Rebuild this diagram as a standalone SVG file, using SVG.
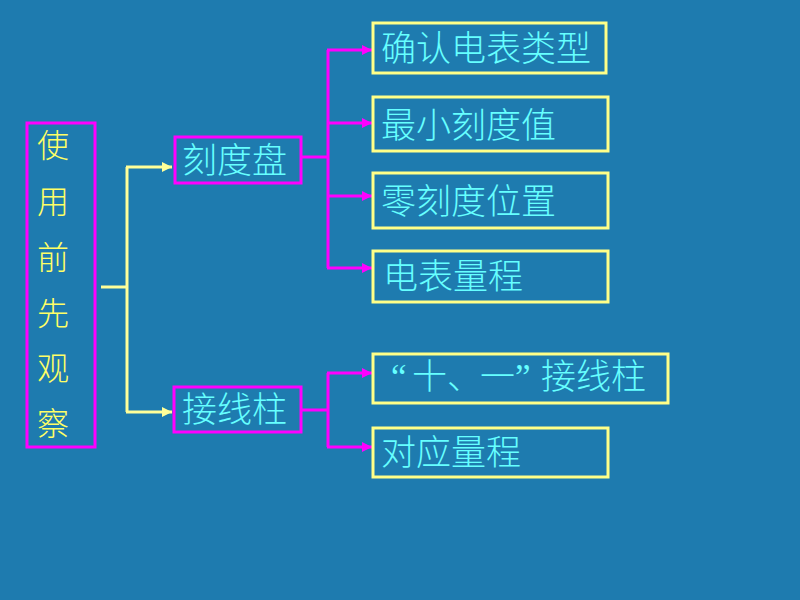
<svg xmlns="http://www.w3.org/2000/svg" width="800" height="600" viewBox="0 0 800 600">
<defs>
<marker id="ay" markerUnits="userSpaceOnUse" markerWidth="12" markerHeight="12" refX="10" refY="5" orient="auto"><path d="M0,0 L10,5 L0,10 Z" fill="#FFFF99"/></marker>
<marker id="am" markerUnits="userSpaceOnUse" markerWidth="12" markerHeight="12" refX="10" refY="5" orient="auto"><path d="M0,0 L10,5 L0,10 Z" fill="#FF00FF"/></marker>
</defs>
<style>
.t{font-family:"Noto Sans CJK SC","Liberation Sans",sans-serif;font-size:35px;font-weight:300;fill:#66FFFF}
.q{font-family:"Liberation Serif",serif;font-weight:400}
.v{font-family:"Noto Sans CJK SC",sans-serif;font-size:32px;font-weight:300;fill:#FFFF66;text-anchor:middle}
.bm{fill:none;stroke:#FF00FF;stroke-width:3}
.by{fill:none;stroke:#FFFF88;stroke-width:3}
.cy{fill:none;stroke:#FFFF99;stroke-width:3}
.cm{fill:none;stroke:#FF00FF;stroke-width:3}
</style>
<rect width="800" height="600" fill="#1E7BAF"/>
<g id="connectors">
<path class="cy" d="M101,287 H127"/>
<path class="cy" d="M127,167 V412"/>
<path class="cy" d="M126,167 H172" marker-end="url(#ay)"/>
<path class="cy" d="M126,412 H172" marker-end="url(#ay)"/>
<path class="cm" d="M301,157 H328"/>
<path class="cm" d="M328,50 V268"/>
<path class="cm" d="M327,50 H372" marker-end="url(#am)"/>
<path class="cm" d="M327,123 H372" marker-end="url(#am)"/>
<path class="cm" d="M327,196 H372" marker-end="url(#am)"/>
<path class="cm" d="M327,268 H372" marker-end="url(#am)"/>
<path class="cm" d="M301,410 H328"/>
<path class="cm" d="M328,373 V447"/>
<path class="cm" d="M327,373 H372" marker-end="url(#am)"/>
<path class="cm" d="M327,447 H372" marker-end="url(#am)"/>
</g>
<g id="root">
<rect class="bm" x="27" y="123" width="68" height="324"/>
<text class="v" x="53" y="157">使</text>
<text class="v" x="53" y="213">用</text>
<text class="v" x="53" y="269">前</text>
<text class="v" x="53" y="325">先</text>
<text class="v" x="53" y="380">观</text>
<text class="v" x="53" y="435">察</text>
</g>
<g id="kedupan">
<rect class="bm" x="175" y="137" width="126" height="46"/>
<text class="t" x="182" y="173">刻度盘</text>
</g>
<g id="jiexianzhu">
<rect class="bm" x="174" y="387" width="127" height="45"/>
<text class="t" x="182" y="422">接线柱</text>
</g>
<g id="n1">
<rect class="by" x="373" y="23" width="233" height="50"/>
<text class="t" x="381" y="61">确认电表类型</text>
</g>
<g id="n2">
<rect class="by" x="373" y="97" width="235" height="54"/>
<text class="t" x="381" y="138">最小刻度值</text>
</g>
<g id="n3">
<rect class="by" x="373" y="173" width="235" height="55"/>
<text class="t" x="381" y="214">零刻度位置</text>
</g>
<g id="n4">
<rect class="by" x="373" y="251" width="235" height="51"/>
<text class="t" x="383" y="289">电表量程</text>
</g>
<g id="n5">
<rect class="by" x="373" y="354" width="295" height="49"/>
<text class="t" y="389"><tspan class="q" x="391">“</tspan><tspan x="412">十</tspan><tspan x="447">、</tspan><tspan x="480">一</tspan><tspan class="q" x="515">”</tspan><tspan x="541">接线柱</tspan></text>
</g>
<g id="n6">
<rect class="by" x="373" y="428" width="235" height="49"/>
<text class="t" x="381" y="465">对应量程</text>
</g>
</svg>
